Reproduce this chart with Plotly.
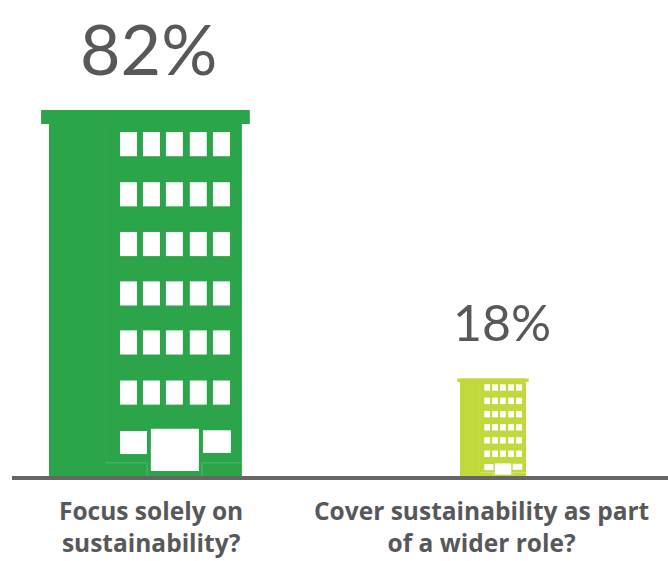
import plotly.graph_objects as go

# Data
categories = ["Focus solely on<br>sustainability?", "Cover sustainability as part<br>of a wider role?"]
values = [82, 18]
value_labels = ["82%", "18%"]
colors = ["#2BA44A", "#C3D93B"]
line_colors = ["#55B56F", "#D2E36A"]
positions = [0, 1]
bar_widths = [0.555, 0.19]

# Style
GREY = "#58585A"
FONT = "Lato"
BASE = -5.28
YTOP = 108.27
label_sizes = [70, 50]
label_shift = [3, 9]
label_yshift = [18, 24]
cat_shift = [5.5, -11.5]

# Window template: fractions of the building's width / height, from its left / top
cols = [0.368, 0.487, 0.606, 0.730, 0.850]
rows = [0.060, 0.197, 0.333, 0.468, 0.602, 0.739]
win_w, win_h = 0.088, 0.066
door = (0.528, 0.777, 0.871, 0.986)
side_l = (0.368, 0.508, 0.877, 0.940)
side_r = (0.798, 0.943, 0.875, 0.937)
roof_over, roof_h = 0.041, 0.038
edge_lines = [
    (0.295, 0.295, 0.038, 0.964, 0.25),
    (0.295, 0.508, 0.964, 0.964, 1),
    (0.508, 0.508, 0.964, 1.0, 1),
    (0.793, 1.0, 0.964, 0.964, 1),
    (0.793, 0.793, 0.964, 1.0, 1),
]

fig = go.Figure(go.Bar(
    x=positions,
    y=[v - BASE for v in values],
    base=BASE,
    width=bar_widths,
    marker=dict(color=colors, line=dict(width=0)),
    hoverinfo="skip",
))

shapes = []
for pos, val, w, col, lcol in zip(positions, values, bar_widths, colors, line_colors):
    left = pos - w / 2
    height = val - BASE

    def X(f):
        return left + f * w

    def Y(f):
        return val - f * height

    def rect(x0, x1, y0, y1, fill):
        shapes.append(dict(type="rect", xref="x", yref="y", x0=X(x0), x1=X(x1),
                           y0=Y(y0), y1=Y(y1), fillcolor=fill, line=dict(width=0)))

    rect(-roof_over, 1 + roof_over, 0, roof_h, col)
    for r in rows:
        for c in cols:
            rect(c, c + win_w, r, r + win_h, "white")
    for x0, x1, y0, y1 in (door, side_l, side_r):
        rect(x0, x1, y0, y1, "white")
    for x0, x1, y0, y1, op in edge_lines:
        shapes.append(dict(type="line", xref="x", yref="y", x0=X(x0), x1=X(x1),
                           y0=Y(y0), y1=Y(y1), opacity=op, line=dict(color=lcol, width=1)))

annotations = []
for pos, val, lab, size, sh, ysh in zip(positions, values, value_labels, label_sizes, label_shift, label_yshift):
    annotations.append(dict(x=pos, y=val, xref="x", yref="y", text=lab, showarrow=False,
                            xanchor="center", yanchor="bottom", xshift=sh, yshift=ysh,
                            font=dict(family=FONT, size=size, color=GREY, weight=400)))
for pos, cat, sh in zip(positions, categories, cat_shift):
    annotations.append(dict(x=pos, y=0, xref="x", yref="paper", text=cat, showarrow=False,
                            xanchor="center", yanchor="top", xshift=sh, yshift=-18,
                            borderpad=0, borderwidth=0,
                            font=dict(family="Open Sans", size=24.5, color=GREY, weight=700)))

fig.update_layout(
    width=668, height=561,
    autosize=False,
    margin=dict(l=12, r=0, t=0, b=85, pad=0),
    paper_bgcolor="white", plot_bgcolor="white",
    showlegend=False,
    shapes=shapes,
    annotations=annotations,
    xaxis=dict(range=[-0.384, 1.5036], showgrid=False, zeroline=False, showticklabels=False,
               ticks="", showline=True, linecolor="#666666", linewidth=4),
    yaxis=dict(range=[BASE, YTOP], showgrid=False, zeroline=False, showticklabels=False,
               ticks="", showline=False),
)

fig.write_html("out.html", config={"displayModeBar": False},
               post_script="document.body.style.margin='0';")
